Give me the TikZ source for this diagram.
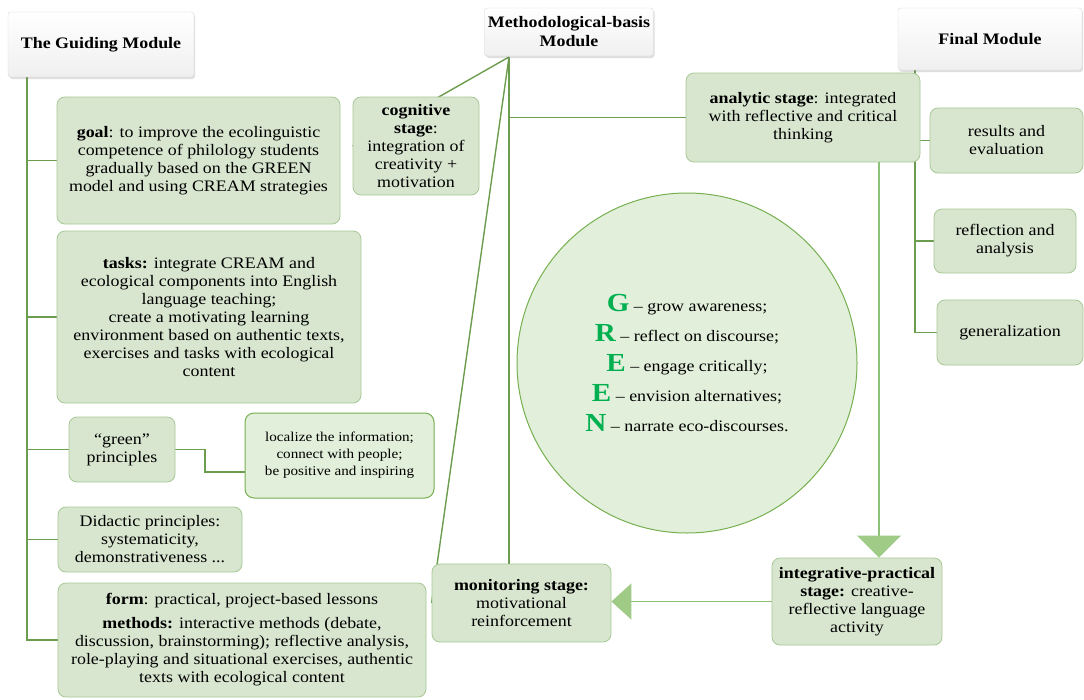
\documentclass[tikz,border=0pt]{standalone}
\usepackage{fontspec}
\setmainfont{Liberation Serif}[FakeStretch=1.12]
\usetikzlibrary{arrows.meta,shadows,backgrounds}

\definecolor{boxfill}{RGB}{216,230,208}
\definecolor{boxedge}{RGB}{166,200,148}
\definecolor{linkgreen}{RGB}{108,156,78}
\definecolor{paleline}{RGB}{140,194,118}
\definecolor{arrowfill}{RGB}{160,203,135}
\definecolor{circfill}{RGB}{226,239,218}
\definecolor{circedge}{RGB}{118,176,80}
\definecolor{lettergreen}{RGB}{0,176,80}
\definecolor{headedge}{RGB}{215,215,215}

\newcommand{\bigletter}[1]{{\fontsize{26}{30}\selectfont\bfseries\color{lettergreen}#1}}

\begin{document}
\begin{tikzpicture}[x=1pt, y=-1pt,
  modhead/.style={draw=headedge, rounded corners=3pt, top color=white, bottom color=black!6,
    drop shadow={shadow xshift=1.2pt, shadow yshift=-2pt, opacity=0.25},
    font=\fontsize{16}{19}\selectfont\bfseries, align=center},
  stagebox/.style={draw=boxedge, fill=boxfill, line width=0.8pt, rounded corners=8pt,
    align=center, inner sep=2pt, font=\fontsize{16}{18}\selectfont},
  notebox/.style={draw=circedge, fill=circfill, line width=1pt, rounded corners=9pt,
    align=center, inner sep=2pt, font=\fontsize{13.5}{17}\selectfont},
  link/.style={draw=linkgreen, line width=1.7pt},
  flowarrow/.style={draw=paleline, line width=1.4pt}]
\useasboundingbox (0,0) rectangle (1084,699);

% module headers
\node[modhead, minimum width=186, minimum height=65] (guide) at (101,44.5) {The Guiding Module};
\node[modhead, minimum width=164, minimum height=48] (metho) at (569,32) {Methodological-basis\\Module};
\node[modhead, minimum width=184, minimum height=62] (final) at (990,39) {Final Module};

% the guiding module
\node[stagebox, minimum width=283, minimum height=127] (goal) at (198.5,160.5)
  {\textbf{goal}: to improve the ecolinguistic\\competence of philology students\\gradually based on the GREEN\\model and using CREAM strategies};
\node[stagebox, minimum width=304, minimum height=172] (tasks) at (209,317)
  {\textbf{tasks:} integrate CREAM and\\ecological components into English\\language teaching;\\create a motivating learning\\environment based on authentic texts,\\exercises and tasks with ecological\\content};
\node[stagebox, minimum width=106, minimum height=65] (greenpr) at (122,449.5) {``green''\\principles};
\node[notebox, minimum width=189, minimum height=85] (localize) at (339.5,455.5)
  {localize the information;\\connect with people;\\be positive and inspiring};
\node[stagebox, minimum width=184, minimum height=65] (didactic) at (150,539.5)
  {Didactic principles:\\systematicity,\\demonstrativeness ...};
\node[stagebox, minimum width=368, minimum height=114] (form) at (242,640)
  {\textbf{form}: practical, project-based lessons\\[6pt]\textbf{methods:} interactive methods (debate,\\discussion, brainstorming); reflective analysis,\\role-playing and situational exercises, authentic\\texts with ecological content};

% the methodological-basis module
\node[stagebox, minimum width=126, minimum height=98] (cogn) at (416,146)
  {\textbf{cognitive}\\\textbf{stage}:\\integration of\\creativity +\\motivation};
\node[stagebox, minimum width=234, minimum height=89] (analytic) at (803,117.5)
  {\textbf{analytic stage}: integrated\\with reflective and critical\\thinking};
\node[stagebox, minimum width=179, minimum height=78] (monitor) at (521.5,603)
  {\textbf{monitoring stage:}\\motivational\\reinforcement};
\node[stagebox, minimum width=170, minimum height=87] (integr) at (857,601.5)
  {\textbf{integrative-practical}\\\textbf{stage:} creative-\\reflective language\\activity};
\node[circle, draw=circedge, fill=circfill, line width=1pt, minimum size=340, inner sep=0pt,
  align=center, font=\fontsize{16}{30}\selectfont] (green) at (687,363)
  {\bigletter{G} – grow awareness;\\
   \bigletter{R} – reflect on discourse;\\
   \bigletter{E} – engage critically;\\
   \bigletter{E} – envision alternatives;\\
   \bigletter{N} – narrate eco-discourses.};

% the final module
\node[stagebox, minimum width=153, minimum height=65] (results) at (1006.5,140.5) {results and\\evaluation};
\node[stagebox, minimum width=142, minimum height=64] (reflect) at (1005,241) {reflection and\\analysis};
\node[stagebox, minimum width=146, minimum height=65] (general) at (1010,332.5) {generalization};

\coordinate (gtop) at (27,77);
\coordinate (mroot) at (509,57);
\coordinate (ftop) at (915,70);
\coordinate (adrop) at (879,162);
\coordinate (lbend) at (205,472);

\begin{scope}[on background layer]
\draw[link] (gtop) |- (goal.west);
\draw[link] (gtop) |- (tasks.west);
\draw[link] (gtop) |- (greenpr.west);
\draw[link] (gtop) |- (didactic.west);
\draw[link] (gtop) |- (form.west);
\draw[link] (greenpr.east) -| (lbend) -- (localize.west |- lbend);
\draw[link, line width=1.4pt] (mroot) -- (cogn.west);
\draw[link, line width=1.4pt] (mroot) -- (monitor.west);
\draw[link, line width=1.4pt] (mroot) -- (mroot |- monitor.north);
\draw[link, line width=1.4pt] (mroot |- analytic.west) -- (analytic.west);
\draw[link] (ftop) |- (results.west);
\draw[link] (ftop) |- (reflect.west);
\draw[link] (ftop) |- (general.west);
\end{scope}
\draw[flowarrow, -{Triangle[width=44pt, length=22pt, color=arrowfill]}] (adrop) -- (adrop |- integr.north);
\draw[flowarrow, -{Triangle[width=36pt, length=20pt, color=arrowfill]}] (integr.west) -- (integr.west -| monitor.east);
\end{tikzpicture}
\end{document}
